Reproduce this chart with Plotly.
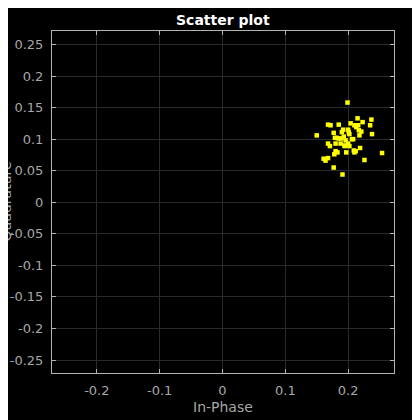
import plotly.graph_objects as go

in_phase = [0.199, 0.215, 0.237, 0.223, 0.204, 0.168, 0.185, 0.210, 0.216, 0.235,
            0.192, 0.200, 0.201, 0.217, 0.177, 0.238, 0.218, 0.150, 0.193, 0.179,
            0.185, 0.189, 0.206, 0.208, 0.168, 0.171, 0.180, 0.188, 0.194, 0.200,
            0.202, 0.195, 0.219, 0.180, 0.183, 0.197, 0.209, 0.210, 0.254, 0.178,
            0.161, 0.164, 0.168, 0.226, 0.177, 0.191, 0.196, 0.213, 0.202, 0.190,
            0.182, 0.212, 0.221, 0.172]
quadrature = [0.158, 0.133, 0.131, 0.127, 0.125, 0.123, 0.123, 0.122, 0.122, 0.122,
              0.115, 0.115, 0.111, 0.114, 0.110, 0.108, 0.106, 0.106, 0.104, 0.102,
              0.101, 0.101, 0.100, 0.100, 0.093, 0.089, 0.093, 0.093, 0.090, 0.093,
              0.089, 0.089, 0.086, 0.081, 0.079, 0.079, 0.082, 0.079, 0.078, 0.076,
              0.069, 0.066, 0.070, 0.067, 0.055, 0.044, 0.098, 0.119, 0.108, 0.111,
              0.102, 0.081, 0.112, 0.122]

x_ticks = [-0.2, -0.1, 0, 0.1, 0.2]
x_labels = ["-0.2", "-0.1", "0", "0.1", "0.2"]
y_ticks = [-0.25, -0.2, -0.15, -0.1, -0.05, 0, 0.05, 0.1, 0.15, 0.2, 0.25]
y_labels = ["-0.25", "-0.2", "-0.15", "-0.1", "-0.05", "0", "0.05", "0.1", "0.15", "0.2", "0.25"]

fig = go.Figure(go.Scatter(
    x=in_phase, y=quadrature, mode="markers",
    marker=dict(color="#ffff00", size=4.5, symbol="square", line=dict(width=0)),
))

axis_common = dict(
    automargin=False,
    showgrid=True, gridcolor="#2a2a2a", gridwidth=1,
    zeroline=False, showline=True, linecolor="#b4b4b4", linewidth=1, mirror="allticks",
    ticks="inside", ticklen=4, tickcolor="#b4b4b4", ticklabelstandoff=5,
    tickfont=dict(family="DejaVu Sans", size=13, color="#a6a6a6"),
)

fig.update_layout(
    width=420, height=420,
    paper_bgcolor="black", plot_bgcolor="black",
    margin=dict(l=43.5, r=33.5, t=22.5, b=55),
    showlegend=False,
    xaxis=dict(range=[-0.2714, 0.273], tickvals=x_ticks, ticktext=x_labels, **axis_common),
    yaxis=dict(range=[-0.2706, 0.2714], tickvals=y_ticks, ticktext=y_labels, **axis_common),
    annotations=[
        dict(text="<b>Scatter plot</b>", xref="paper", yref="paper", x=0.5, y=1, yshift=11.5,
             xanchor="center", yanchor="middle", showarrow=False,
             font=dict(family="DejaVu Sans", size=14, color="white")),
        dict(text="In-Phase", xref="paper", yref="paper", x=0.5, y=0, yshift=-33.5,
             xanchor="center", yanchor="middle", showarrow=False,
             font=dict(family="DejaVu Sans", size=14, color="#a6a6a6")),
        dict(text="Quadrature", xref="paper", yref="paper", x=0, xshift=-46.5, y=0.5,
             xanchor="center", yanchor="middle", textangle=-90, showarrow=False,
             font=dict(family="DejaVu Sans", size=14, color="#a6a6a6")),
    ],
)

fig.write_html("out.html")
